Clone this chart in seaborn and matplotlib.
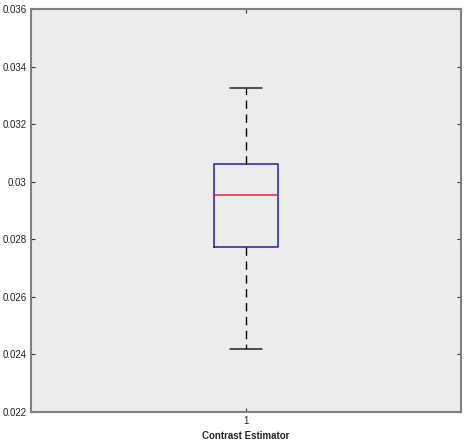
import matplotlib
matplotlib.use("Agg")
import matplotlib.pyplot as plt
import seaborn as sns
import pandas as pd

# values (whisker low, Q1, median, Q3, whisker high)
contrast_values = [0.02419, 0.02773, 0.02954, 0.03061, 0.03327]
group_labels = ["1"] * len(contrast_values)
y_ticks = [0.022, 0.024, 0.026, 0.028, 0.030, 0.032, 0.034, 0.036]
y_tick_labels = ["0.022", "0.024", "0.026", "0.028", "0.03", "0.032", "0.034", "0.036"]

df = pd.DataFrame({"group": group_labels, "value": contrast_values})

sns.set_style("white")
plt.rcParams["font.family"] = ["Liberation Sans", "DejaVu Sans"]

fig = plt.figure(figsize=(4.66, 4.43), dpi=100)
ax = fig.add_axes([31 / 466, 31 / 443, 430 / 466, 403 / 443])
ax.set_facecolor("#ececec")

box_color = "#1f1fa6"
sns.boxplot(data=df, x="group", y="value", ax=ax, width=0.151, fill=False,
            color=box_color, linewidth=1.1, whis=1.5, showfliers=False,
            boxprops=dict(color=box_color),
            medianprops=dict(color="#e8262e", linewidth=1.1),
            whiskerprops=dict(color="black", linestyle=(0, (6, 4)), linewidth=1.0),
            capprops=dict(color="#222222", linewidth=1.1))

ax.set_xlim(-0.5, 0.5)
ax.set_ylim(0.022, 0.036)
ax.set_yticks(y_ticks)
ax.set_yticklabels(y_tick_labels)
ax.set_ylabel("")
ax.set_xlabel("Contrast Estimator", fontsize=7, fontweight="bold", labelpad=3.5)

for side in ["left", "right", "top", "bottom"]:
    ax.spines[side].set_visible(True)
    ax.spines[side].set_color("#808080")
    ax.spines[side].set_linewidth(1.5)

ax.tick_params(axis="both", direction="in", length=3, width=0.8, colors="#333333",
               labelsize=7, pad=3, labelcolor="#222222")
ax.tick_params(axis="y", right=True, left=True)
ax.tick_params(axis="x", top=True, bottom=True)

fig.savefig("out.png", dpi=100, facecolor="white")
